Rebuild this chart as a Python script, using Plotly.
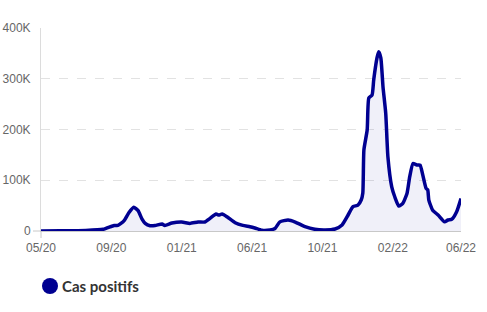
import plotly.graph_objects as go

dates = [
    "2020-05-13", "2020-06-17", "2020-08-03", "2020-09-04", "2020-09-24", "2020-10-01",
    "2020-10-12", "2020-10-21", "2020-10-30", "2020-11-07", "2020-11-14", "2020-11-20",
    "2020-11-29", "2020-12-08", "2020-12-21", "2020-12-26", "2021-01-08", "2021-01-26",
    "2021-02-10", "2021-02-25", "2021-03-09", "2021-03-19", "2021-03-30", "2021-04-04",
    "2021-04-10", "2021-04-19", "2021-05-04", "2021-05-18", "2021-05-31", "2021-06-09",
    "2021-06-22", "2021-07-07", "2021-07-16", "2021-07-25", "2021-08-09", "2021-08-22",
    "2021-09-09", "2021-09-27", "2021-10-16", "2021-11-03", "2021-11-16", "2021-11-27",
    "2021-12-06", "2021-12-15", "2021-12-21", "2021-12-24", "2021-12-26", "2022-01-01",
    "2022-01-04", "2022-01-10", "2022-01-13", "2022-01-19", "2022-01-22", "2022-01-26",
    "2022-01-30", "2022-02-04", "2022-02-08", "2022-02-15", "2022-02-21", "2022-02-28",
    "2022-03-07", "2022-03-15", "2022-03-20", "2022-03-26", "2022-04-02", "2022-04-08",
    "2022-04-13", "2022-04-19", "2022-04-22", "2022-04-24", "2022-05-01", "2022-05-11",
    "2022-05-23", "2022-05-29", "2022-06-05", "2022-06-14", "2022-06-22",
]
cas_positifs = [
    0, 300, 1000, 3300, 11000, 11000,
    20000, 36000, 47000, 40000, 24000, 15000,
    10500, 10800, 13800, 11000, 15700, 17700,
    15000, 17700, 17700, 25000, 33500, 31500,
    33500, 28000, 16400, 11000, 8500, 6000,
    1400, 2000, 5000, 18000, 21700, 17700,
    8500, 3300, 2000, 4000, 12000, 31500,
    48000, 51000, 61000, 75000, 160000, 199000,
    262000, 268000, 298000, 341000, 353000, 341000,
    284000, 232000, 146000, 87000, 66000, 49000,
    54000, 74000, 107000, 133000, 130000, 130000,
    110000, 84000, 81000, 61000, 41000, 31500,
    18000, 21700, 23000, 38000, 64000,
]
tick_dates = ["2020-05-13", "2020-09-19", "2021-01-26", "2021-06-04",
              "2021-10-11", "2022-02-17", "2022-06-22"]
tick_labels = ["05/20", "09/20", "01/21", "06/21", "10/21", "02/22", "06/22"]
y_ticks = [0, 100000, 200000, 300000, 400000]
y_labels = ["0", "100K", "200K", "300K", "400K"]
series_name = "Cas positifs"

blue = "#000091"

fig = go.Figure()
fig.add_trace(go.Scatter(
    x=dates, y=cas_positifs, mode="lines", name=series_name,
    line=dict(color=blue, width=3.5, shape="spline", smoothing=0.5),
    fill="tozeroy", fillcolor="rgba(0,0,145,0.06)",
    showlegend=False, hoverinfo="x+y",
))

fig.update_layout(
    width=487, height=312,
    margin=dict(l=41, r=26, t=28, b=81),
    paper_bgcolor="white", plot_bgcolor="white",
    font=dict(family="Liberation Sans, Arial, sans-serif", size=12, color="#666"),
    showlegend=False,
    xaxis=dict(
        type="date", range=["2020-05-13", "2022-06-22"], automargin=False,
        tickvals=tick_dates, ticktext=tick_labels,
        showgrid=False, zeroline=False, showline=True, linecolor="#c8c8c8", linewidth=1,
        ticks="", ticklabelstandoff=6, tickfont=dict(size=12, color="#666"),
    ),
    yaxis=dict(
        range=[0, 400000], tickvals=y_ticks, ticktext=y_labels, automargin=False,
        showgrid=True, gridcolor="#e2e2e2", griddash="dash", gridwidth=1,
        zeroline=False, showline=True, linecolor="#dcdcdc", linewidth=1,
        ticks="", ticklabelstandoff=7, tickfont=dict(size=12, color="#666"),
    ),
)

# axis crossing stubs
fig.add_shape(type="line", xref="paper", yref="paper", x0=-8/420, x1=0, y0=0, y1=0,
              line=dict(color="#c8c8c8", width=1))
fig.add_shape(type="line", xref="paper", yref="paper", x0=0, x1=0, y0=0, y1=-7/203,
              line=dict(color="#c8c8c8", width=1))

# legend
fig.add_shape(type="circle", xref="paper", yref="paper",
              x0=(42 - 41)/420, x1=(58 - 41)/420,
              y0=(231 - 294)/203, y1=(231 - 278)/203,
              fillcolor=blue, line=dict(color=blue, width=0))
fig.add_annotation(xref="paper", yref="paper", x=(60 - 41)/420, y=(231 - 286)/203,
                   xanchor="left", yanchor="middle", showarrow=False,
                   text="<b>" + series_name + "</b>",
                   font=dict(family="Lato, sans-serif", size=15, color="#333"))

fig.write_html("out.html")
